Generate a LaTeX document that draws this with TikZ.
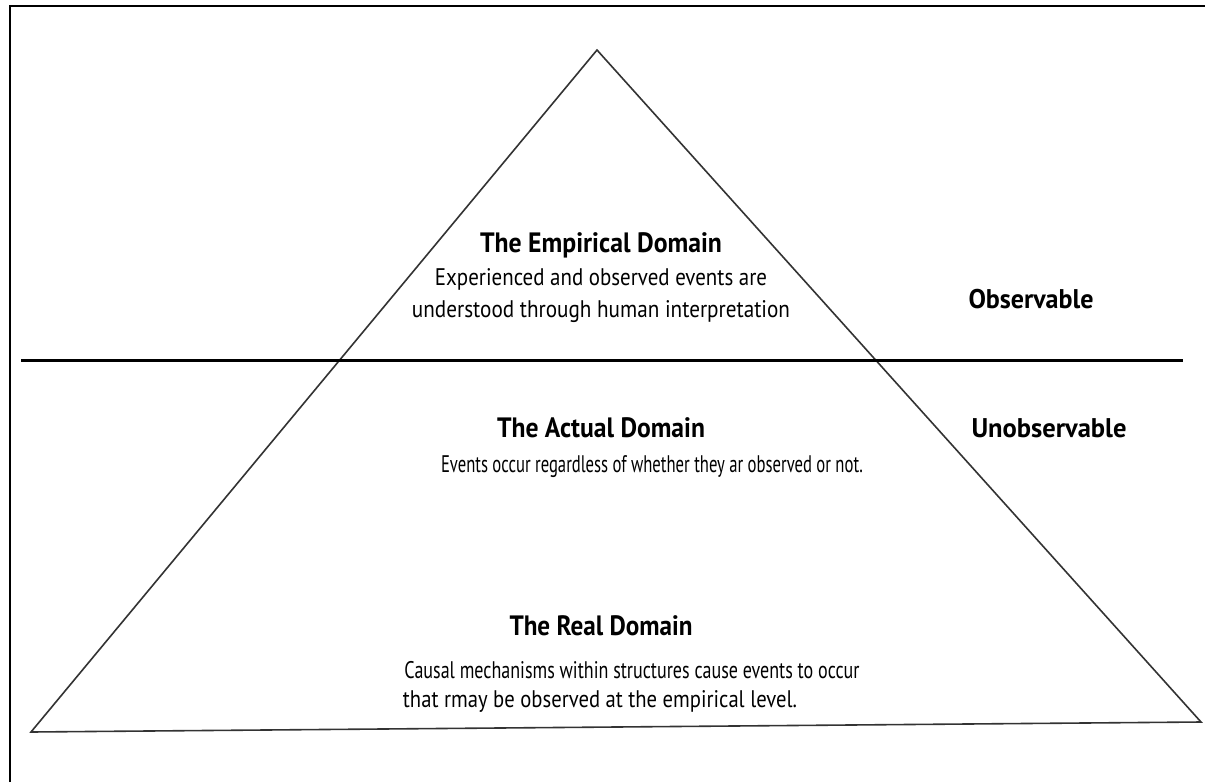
\documentclass[tikz,border=0pt]{standalone}
\usepackage{fontspec}
\usepackage{graphicx}
\setmainfont{PT Sans}
% one line of text set to a given width, keeping its height
\newcommand{\fitline}[2]{\resizebox{#1}{\height}{#2}}
\begin{document}
\begin{tikzpicture}[x=1pt,y=-1pt,
  frameline/.style={line width=2.6pt,black},
  triline/.style={line width=1.6pt,black!80,line join=miter},
  divider/.style={line width=3pt,black},
  titletext/.style={anchor=base,inner sep=0pt,font=\fontsize{28}{32}\selectfont\bfseries},
  bodytext/.style={anchor=base,inner sep=0pt,font=\fontsize{24}{28}\selectfont},
  sidetext/.style={anchor=base,inner sep=0pt,font=\fontsize{27}{31}\selectfont\bfseries}]
\useasboundingbox (0,0) rectangle (1205,782);
\fill[white] (0,0) rectangle (1205,782);

% frame along the top and left edges
\draw[frameline] (10,782) -- (10,6) -- (1205,6);

% the triangle
\coordinate (apex) at (597,50);
\coordinate (bl) at (31,732);
\coordinate (br) at (1201,722);
\draw[triline] (apex) -- (br) -- (bl) -- cycle;

% line between observable and unobservable
\coordinate (divl) at (21,360);
\coordinate (divr) at (1183,360);
\draw[divider] (divl) -- (divr);

% empirical domain
\node[titletext] (emptitle) at (601,252) {\fitline{242pt}{The Empirical Domain}};
\node[bodytext] (empline1) at (601,285) {\fitline{332pt}{Experienced and observed events are}};
\node[bodytext] (empline2) at (601,317) {\fitline{378pt}{understood through human interpretation}};

% actual domain
\node[titletext] (acttitle) at (601,437) {\fitline{208pt}{The Actual Domain}};
\node[bodytext] (actline1) at (652,472) {\fitline{422pt}{Events occur regardless of whether they ar observed or not.}};

% real domain
\node[titletext] (realtitle) at (601,635) {\fitline{183pt}{The Real Domain}};
\node[bodytext] (realline1) at (632,678) {\fitline{455pt}{Causal mechanisms within structures cause events to occur}};
\node[bodytext] (realline2) at (600,707) {\fitline{394pt}{that rmay be observed at the empirical level.}};

% side labels
\node[sidetext] (obs) at (1031,308) {\fitline{125pt}{Observable}};
\node[sidetext] (unobs) at (1049,437) {\fitline{155pt}{Unobservable}};
\end{tikzpicture}
\end{document}
